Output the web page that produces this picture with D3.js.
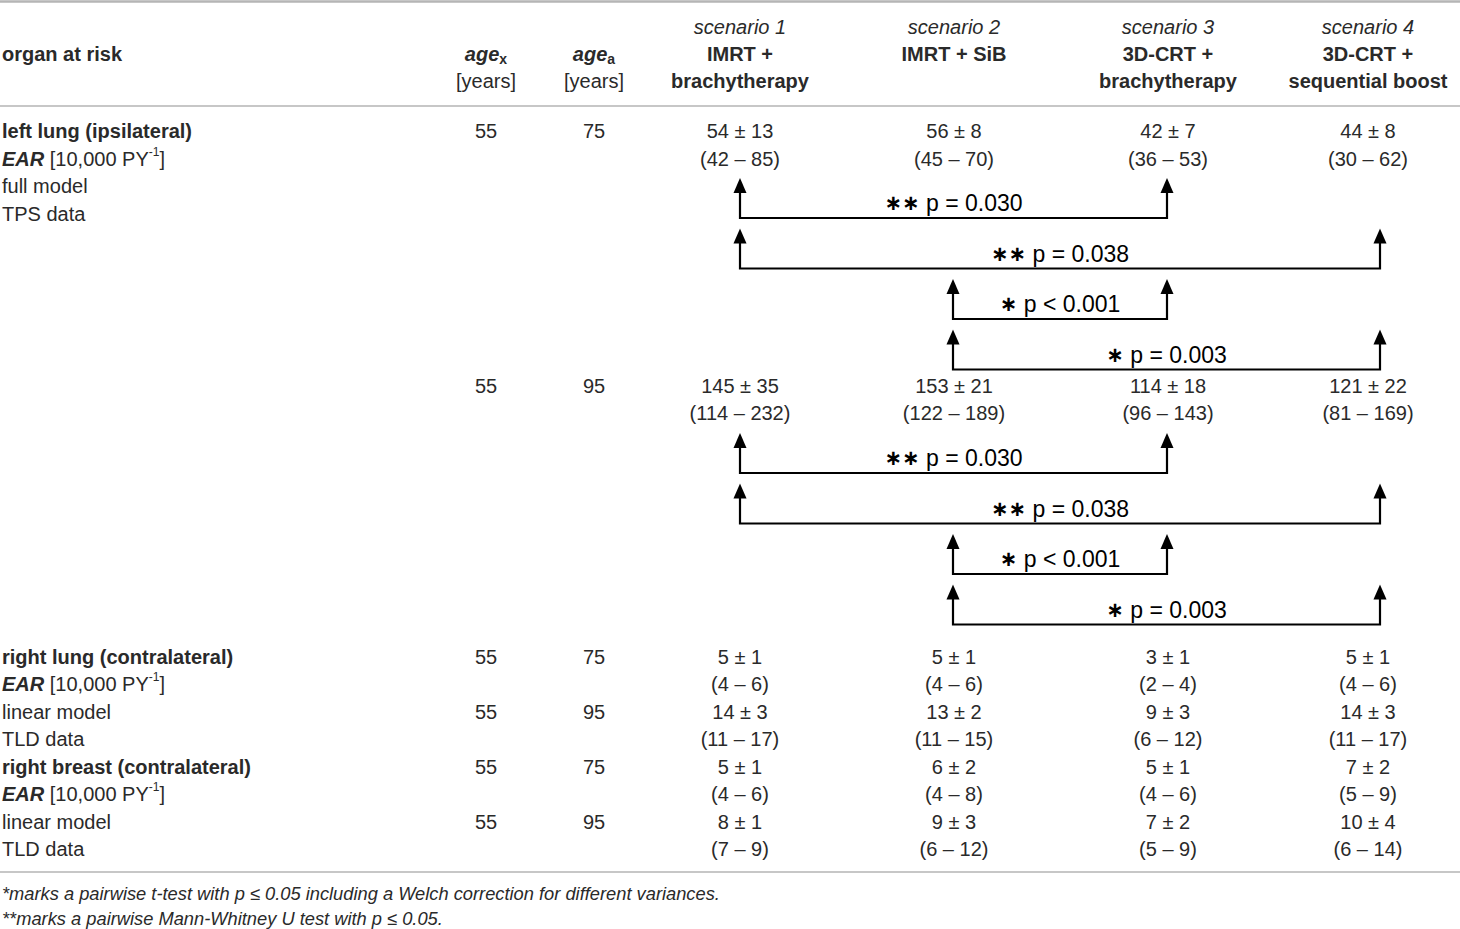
<!DOCTYPE html>
<html><head><meta charset="utf-8">
<script src="https://cdn.jsdelivr.net/npm/d3@7"></script>
<style>
html,body{margin:0;padding:0;background:#fff;}
svg{display:block;}
</style></head>
<body>
<svg id="chart" width="1460" height="929"></svg>
<script>
// ---------- data ----------
const scenarioLabels = ["scenario 1", "scenario 2", "scenario 3", "scenario 4"];
const treatmentLines = [["IMRT +", "brachytherapy"], ["IMRT + SiB"], ["3D-CRT +", "brachytherapy"], ["3D-CRT +", "sequential boost"]];
const organLabels = ["left lung (ipsilateral)", "right lung (contralateral)", "right breast (contralateral)"];
const modelLabels = [["full model", "TPS data"], ["linear model", "TLD data"], ["linear model", "TLD data"]];
// one entry per (organ, attained age)
const entryOrgan = [0, 0, 1, 1, 2, 2];
const ageXValues = [55, 55, 55, 55, 55, 55];
const ageAValues = [75, 95, 75, 95, 75, 95];
const meanValues = [[54, 56, 42, 44], [145, 153, 114, 121], [5, 5, 3, 5], [14, 13, 9, 14], [5, 6, 5, 7], [8, 9, 7, 10]];
const sdValues   = [[13, 8, 7, 8], [35, 21, 18, 22], [1, 1, 1, 1], [3, 2, 3, 3], [1, 2, 1, 2], [1, 3, 2, 4]];
const minValues  = [[42, 45, 36, 30], [114, 122, 96, 81], [4, 4, 2, 4], [11, 11, 6, 11], [4, 4, 4, 5], [7, 6, 5, 6]];
const maxValues  = [[85, 70, 53, 62], [232, 189, 143, 169], [6, 6, 4, 6], [17, 15, 12, 17], [6, 8, 6, 9], [9, 12, 9, 14]];
// pairwise comparisons (apply to both left-lung entries)
const compFrom  = [0, 0, 1, 1];
const compTo    = [2, 3, 2, 3];
const compStars = ["**", "**", "*", "*"];
const compText  = ["p = 0.030", "p = 0.038", "p < 0.001", "p = 0.003"];
const footnotes = ["*marks a pairwise t-test with p \u2264 0.05 including a Welch correction for different variances.",
                   "**marks a pairwise Mann-Whitney U test with p \u2264 0.05."];

// ---------- layout ----------
const W = 1460, H = 929;
const svg = d3.select("#chart");
const FONT = "'Liberation Sans', Arial, Helvetica, sans-serif";
const TXT = "#2a2a2a";
const FS = 20;

const xCol = d3.scaleOrdinal().domain(d3.range(4)).range([740, 954, 1168, 1368]);
const xArrow = d3.scaleOrdinal().domain(d3.range(4)).range([740, 953, 1167, 1380]);
const xAgeX = 486, xAgeA = 594, xLeft = 2;
const lineY = d3.scaleOrdinal().domain(["top", "head", "bottom"]).range([1.5, 106, 872]);

// row y for left lung block
const yTop = d3.scaleLinear().domain([0, 3]).range([131, 214]);
const yTop2 = d3.scaleLinear().domain([0, 1]).range([386, 413]);
const yLow = d3.scaleLinear().domain([0, 7]).range([657, 849]);
const bracketStep = 50.5;

function txt(x, y, s, opts = {}) {
  return svg.append("text")
    .attr("x", x).attr("y", y)
    .attr("dominant-baseline", "central")
    .attr("text-anchor", opts.anchor || "start")
    .attr("font-family", opts.family || FONT)
    .attr("font-size", opts.size || FS)
    .attr("font-weight", opts.weight || "normal")
    .attr("font-style", opts.style || "normal")
    .attr("fill", opts.fill || TXT)
    .text(s);
}

// horizontal rules
svg.selectAll("line.rule").data(lineY.domain()).join("line")
  .attr("class", "rule")
  .attr("x1", 0).attr("x2", W)
  .attr("y1", d => lineY(d)).attr("y2", d => lineY(d))
  .attr("stroke", "#b5b5b5").attr("stroke-width", d => d === "top" ? 2.5 : 1.6);

// header
txt(xLeft, 54, "organ at risk", {weight: "bold"});
[[xAgeX, "x"], [xAgeA, "a"]].forEach(([x, sub]) => {
  const t = svg.append("text").attr("x", x).attr("y", 54)
    .attr("dominant-baseline", "central").attr("text-anchor", "middle")
    .attr("font-family", FONT).attr("font-size", FS).attr("fill", TXT);
  t.append("tspan").attr("font-weight", "bold").attr("font-style", "italic").text("age");
  t.append("tspan").attr("font-weight", "bold").attr("font-size", 14).attr("dy", 5).text(sub);
  txt(x, 81, "[years]", {anchor: "middle"});
});
scenarioLabels.forEach((s, i) => {
  txt(xCol(i), 27, s, {anchor: "middle", style: "italic"});
  treatmentLines[i].forEach((l, j) => txt(xCol(i), 54 + j * 27, l, {anchor: "middle", weight: "bold"}));
});

// left column labels
function earLabel(y) {
  const t = svg.append("text").attr("x", xLeft).attr("y", y)
    .attr("dominant-baseline", "central")
    .attr("font-family", FONT).attr("font-size", FS).attr("fill", TXT);
  t.append("tspan").attr("font-weight", "bold").attr("font-style", "italic").text("EAR");
  t.append("tspan").text(" [10,000 PY");
  t.append("tspan").attr("font-size", 12).attr("dy", -7).text("-1");
  t.append("tspan").attr("dy", 7).text("]");
}
function organBlock(o, yFn) {
  txt(xLeft, yFn(0), organLabels[o], {weight: "bold"});
  earLabel(yFn(1));
  modelLabels[o].forEach((m, j) => txt(xLeft, yFn(2 + j), m));
}
organBlock(0, yTop);
organBlock(1, yLow);
organBlock(2, d => yLow(d + 4));

// entry rows
function entryRow(e, y1, y2) {
  txt(xAgeX, y1, ageXValues[e], {anchor: "middle"});
  txt(xAgeA, y1, ageAValues[e], {anchor: "middle"});
  d3.range(4).forEach(i => {
    txt(xCol(i), y1, `${meanValues[e][i]} \u00b1 ${sdValues[e][i]}`, {anchor: "middle"});
    txt(xCol(i), y2, `(${minValues[e][i]} \u2013 ${maxValues[e][i]})`, {anchor: "middle"});
  });
}
entryRow(0, yTop(0), yTop(1));
entryRow(1, yTop2(0), yTop2(1));
[2, 3, 4, 5].forEach((e, k) => entryRow(e, yLow(2 * k), yLow(2 * k + 1)));

// significance brackets
function brackets(baseY) {
  compFrom.forEach((f, k) => {
    const tip = baseY + 47 + k * bracketStep;
    const yl = tip + 40;
    const xa = xArrow(f), xb = xArrow(compTo[k]);
    const g = svg.append("g");
    g.append("path")
      .attr("d", `M${xa},${tip + 12} L${xa},${yl} L${xb},${yl} L${xb},${tip + 12}`)
      .attr("fill", "none").attr("stroke", "#000").attr("stroke-width", 2.2);
    [xa, xb].forEach(x => g.append("path")
      .attr("d", `M${x},${tip} L${x - 6.5},${tip + 15} L${x + 6.5},${tip + 15} Z`)
      .attr("fill", "#000"));
    const t = g.append("text").attr("x", (xa + xb) / 2).attr("y", tip + 25)
      .attr("dominant-baseline", "central").attr("text-anchor", "middle")
      .attr("font-family", FONT).attr("font-size", 23).attr("fill", "#000");
    t.append("tspan").attr("font-family", "'DejaVu Sans', sans-serif").attr("font-weight", "bold")
      .attr("font-size", 21).text(compStars[k].replace(/\*/g, "\u2217"));
    t.append("tspan").text(" " + compText[k]);
  });
}
brackets(yTop(0));
brackets(yTop2(0));

// footnotes
footnotes.forEach((f, i) => txt(xLeft, 893 + i * 25, f, {style: "italic", size: 18.3}));
</script>
</body></html>
